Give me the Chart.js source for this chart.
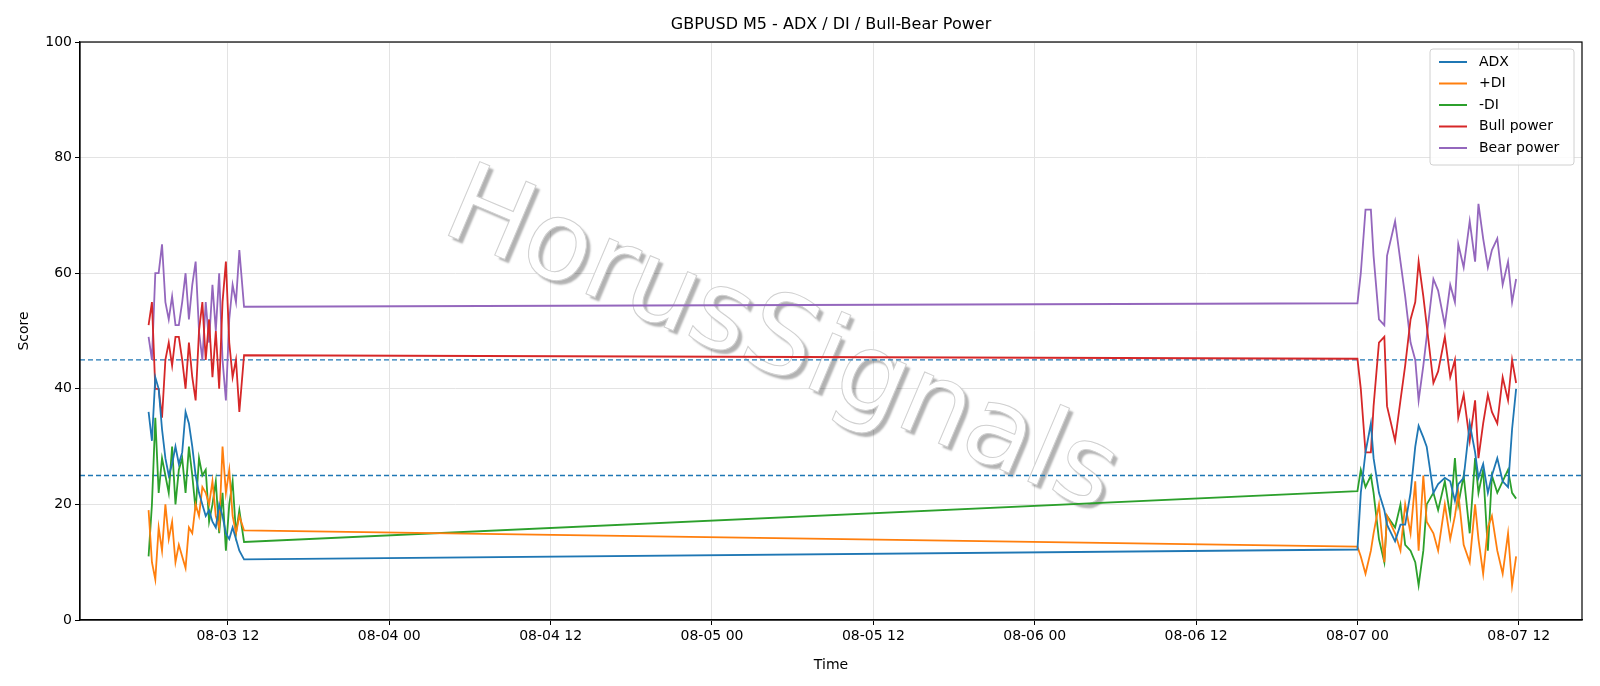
<!DOCTYPE html>
<html><head><meta charset="utf-8">
<script src="https://cdn.jsdelivr.net/npm/chart.js@4/dist/chart.umd.min.js"></script>
<style>html,body{margin:0;padding:0;background:#fff}#w{width:1600px;height:686px}</style>
</head><body><div id="w"><canvas id="c"></canvas></div>
<script>
// hours since 08-03 00:00
const times = [6.1,6.35,6.6,6.85,7.1,7.35,7.6,7.85,8.1,8.35,8.6,8.85,9.1,9.35,9.6,9.85,10.1,10.35,10.6,10.85,11.1,11.35,11.6,11.85,12.1,12.35,12.6,12.85,13.2,
 96.0,96.25,96.6,97.0,97.2,97.6,98.0,98.2,98.8,99.2,99.55,99.95,100.3,100.55,100.9,101.15,101.65,102.0,102.5,102.9,103.25,103.5,103.9,104.35,104.75,105.0,105.35,105.7,106.0,106.4,106.8,107.2,107.5,107.8];
const adx = [36,31,42,40,33,28,25,27,30,27,29,36,34,30,25,22,20,18,19,17,16,20,18,15,14,16,14,12,10.5,
 12.2,22,29,34,28,22,19,16.5,13.6,16.5,16.5,22,30,33.6,31.6,30,22,23.5,24.6,24,20.6,23.5,24.6,34,29,24.6,27,22,25,28,24,23,33,40];
const plusDI = [19,10,7,16,12,20,14,17,10,13,11,9,16,15,20,18,23,22,20,24,18,16,30,22,26,18,15,18,15.5,
 12.7,11,8,12,15,20,10,18,15,12,20,15,24,12,25,17,15,12,20,14,18,22,13,10,20,14,8,16,18,12,8,15,6,11];
const minusDI = [11,20,35,22,28,25,22,30,20,26,28,22,30,25,19,28,25,26,17,20,24,15,22,12,20,24,15,19,13.5,
 22.3,26,23,25,22,14,10,18,16,20,13,12,10,6,12,20,22,19,24,18,28,20,25,15,28,22,26,12,25,22,24,26,22,21];
const bullPower = [51,55,40,40,35,45,48,44,49,49,45,40,48,42,38,50,55,45,52,42,50,40,55,62,48,42,45,36,45.8,
 45.2,40,29,29,37,48,49,37,31,38,44,52,55,62,56,51,41,43,49,42,45,35,39,31,38,28,34,39,36,34,42,38,45,41];
const bearPower = [49,45,60,60,65,55,52,56,51,51,55,60,52,58,62,50,45,55,48,58,50,60,45,38,52,58,55,64,54.2,
 54.8,60,71,71,63,52,51,63,69,62,56,48,45,38,44,49,59,57,51,58,55,65,61,69,62,72,66,61,64,66,58,62,55,59];
const levels = [45,25];
const seriesNames = ['ADX','+DI','-DI','Bull power','Bear power'];
const colors = ['#1f77b4','#ff7f0e','#2ca02c','#d62728','#9467bd'];
const xTicks = [12,24,36,48,60,72,84,96,108];

const allVals = [adx,plusDI,minusDI,bullPower,bearPower];
const F = 'DejaVu Sans';
const fmt = h => { const d = 3 + Math.floor(h/24); const hh = h%24; return '08-0'+d+' '+String(hh).padStart(2,'0'); };

const extras = {
  id:'extras',
  beforeDatasetsDraw(ch){
    const {ctx,chartArea:a,scales:{x,y}} = ch;
    ctx.save();
    ctx.beginPath(); ctx.rect(a.left,a.top,a.right-a.left,a.bottom-a.top); ctx.clip();
    ctx.translate(780,345); ctx.rotate(23*Math.PI/180);
    ctx.font = '110px '+F; ctx.textAlign='center'; ctx.textBaseline='middle';
    ctx.shadowColor='rgba(0,0,0,0.3)'; ctx.shadowOffsetX=4; ctx.shadowOffsetY=4; ctx.shadowBlur=2;
    ctx.fillStyle='#ffffff'; ctx.fillText('HorusSignals',0,0);
    ctx.shadowColor='transparent';
    ctx.lineWidth=1; ctx.strokeStyle='#d0d0d0'; ctx.strokeText('HorusSignals',0,0);
    ctx.restore();
    ctx.save();
    ctx.setLineDash([5,3]); ctx.strokeStyle='#1f77b4'; ctx.lineWidth=1.3;
    levels.forEach(v=>{const py=y.getPixelForValue(v); ctx.beginPath(); ctx.moveTo(a.left,py); ctx.lineTo(a.right,py); ctx.stroke();});
    ctx.restore();
  },
  afterDraw(ch){
    const {ctx,chartArea:a} = ch;
    ctx.save();
    ctx.strokeStyle='#000'; ctx.lineWidth=1.2; ctx.strokeRect(a.left,a.top,a.right-a.left,a.bottom-a.top);
    ctx.fillStyle='#000'; ctx.font='16px '+F; ctx.textAlign='center'; ctx.textBaseline='middle';
    ctx.fillText('GBPUSD M5 - ADX / DI / Bull-Bear Power',(a.left+a.right)/2,25);
    const lx=a.right-152, ly=a.top+7, lw=144, lh=116;
    ctx.fillStyle='rgba(255,255,255,0.85)'; ctx.strokeStyle='#d0d0d0'; ctx.lineWidth=1;
    ctx.beginPath(); ctx.roundRect(lx,ly,lw,lh,3); ctx.fill(); ctx.stroke();
    ctx.font='14px '+F; ctx.textAlign='left';
    seriesNames.forEach((n,i)=>{
      const yy=ly+13+i*21.5;
      ctx.strokeStyle=colors[i]; ctx.lineWidth=2; ctx.beginPath(); ctx.moveTo(lx+9,yy); ctx.lineTo(lx+37,yy); ctx.stroke();
      ctx.fillStyle='#000'; ctx.fillText(n,lx+49,yy);
    });
    ctx.restore();
  }
};

new Chart(document.getElementById('c'),{
  type:'line',
  data:{datasets: seriesNames.map((n,i)=>({label:n,data:times.map((t,k)=>({x:t,y:allVals[i][k]})),borderColor:colors[i],borderWidth:1.8,pointRadius:0,tension:0}))},
  options:{
    responsive:true,maintainAspectRatio:false,animation:false,
    layout:{padding:{top:42,right:18,left:12,bottom:8}},
    plugins:{legend:{display:false},title:{display:false},tooltip:{enabled:false}},
    scales:{
      x:{type:'linear',min:1.0,max:112.7,
        afterBuildTicks:s=>{s.ticks=xTicks.map(v=>({value:v}));},
        afterFit:s=>{s.height=58;},
        ticks:{callback:v=>fmt(v),color:'#000',font:{family:F,size:14},maxRotation:0,autoSkip:false},
        grid:{color:'#e3e3e3',tickLength:5,tickColor:'#000'},
        border:{color:'#000',width:1.2},
        title:{display:true,text:'Time',color:'#000',font:{family:F,size:14},padding:{top:0}}},
      y:{min:0,max:100,
        afterFit:s=>{s.width=68;},
        ticks:{stepSize:20,color:'#000',font:{family:F,size:14}},
        grid:{color:'#e3e3e3',tickLength:5,tickColor:'#000'},
        border:{color:'#000',width:1.2},
        title:{display:true,text:'Score',color:'#000',font:{family:F,size:14}}}
    }
  },
  plugins:[extras]
});
</script></body></html>
